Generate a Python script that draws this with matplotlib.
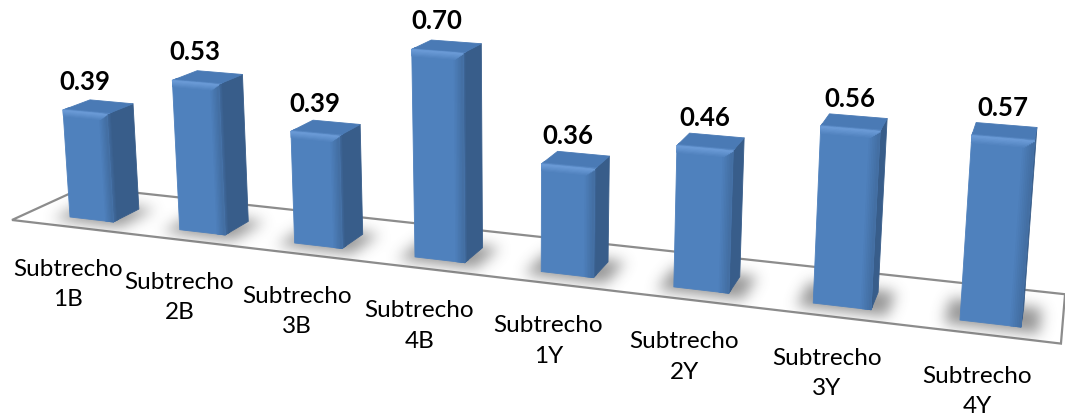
import numpy as np
import matplotlib
matplotlib.use("Agg")
import matplotlib.pyplot as plt
from matplotlib.patches import Polygon
from matplotlib.path import Path
from matplotlib.colors import to_rgb

# ---- data -------------------------------------------------------------
categories = ["Subtrecho\n1B", "Subtrecho\n2B", "Subtrecho\n3B", "Subtrecho\n4B",
              "Subtrecho\n1Y", "Subtrecho\n2Y", "Subtrecho\n3Y", "Subtrecho\n4Y"]
values = [0.39, 0.53, 0.39, 0.70, 0.36, 0.46, 0.56, 0.57]

# ---- perspective camera -------------------------------------------------
# world coords: X along the category axis, D into the depth, Z = value
CAMERA = np.array([
    [105.75, 72.35, -20.40, 70.0],
    [7.59, -18.46, -278.70, 217.0],
    [-0.02228, 0.065, -0.03903, 1.0],
])

BAR_W = 0.40          # bar width along the category axis
BAR_D = 0.40          # bar depth
FLOOR_X = (-0.386, 7.665)
FLOOR_D = (-0.2385, 0.830)

FRONT = np.array(to_rgb("#4F81BD"))
SIDE = np.array(to_rgb("#385D8A"))
TOP = np.array(to_rgb("#4A7AB5"))
HILITE = np.array(to_rgb("#6A9AD6"))
FONT = ["Lato", "DejaVu Sans"]


def project(X, D, Z):
    p = CAMERA @ np.array([X, D, Z, 1.0])
    return p[0] / p[2], p[1] / p[2]


def quad(points):
    return np.array([project(*p) for p in points])


def mix(c1, c2, t):
    return np.asarray(c1) * (1 - t) + np.asarray(c2) * t


W, H = 1065, 416
fig = plt.figure(figsize=(W / 100, H / 100), dpi=100)
ax = fig.add_axes([0, 0, 1, 1])
ax.set_xlim(0, W)
ax.set_ylim(H, 0)
ax.axis("off")

# ---- floor ---------------------------------------------------------------
x0, x1 = FLOOR_X
d0, d1 = FLOOR_D
floor_pts = quad([(x0, d0, 0), (x1, d0, 0), (x1, d1, 0), (x0, d1, 0)])
floor = Polygon(floor_pts, closed=True, facecolor="white", edgecolor="#8C8C8C",
                linewidth=1.6, joinstyle="miter", zorder=1)
ax.add_patch(floor)

# ---- soft shadows on the floor ------------------------------------------
yy, xx = np.mgrid[0:H, 0:W]
grid = np.column_stack([xx.ravel() + 0.5, yy.ravel() + 0.5])
mask = np.zeros(H * W)
for i in range(len(values)):
    foot = quad([(i - 0.10, -0.10, 0), (i + BAR_W + 0.12, -0.10, 0),
                 (i + BAR_W + 0.12, BAR_D + 0.05, 0), (i - 0.10, BAR_D + 0.05, 0)])
    mask += Path(foot).contains_points(grid)
mask = mask.reshape(H, W)


def blur(img, sigma):
    r = int(3 * sigma)
    k = np.exp(-0.5 * (np.arange(-r, r + 1) / sigma) ** 2)
    k /= k.sum()
    img = np.apply_along_axis(lambda m: np.convolve(m, k, mode="same"), 1, img)
    img = np.apply_along_axis(lambda m: np.convolve(m, k, mode="same"), 0, img)
    return img


shadow = blur(mask, 7.0)
rgba = np.zeros((H, W, 4))
rgba[..., :3] = 0.30
rgba[..., 3] = np.clip(shadow, 0, 1) * 0.6
im = ax.imshow(rgba, extent=[0, W, H, 0], zorder=2, interpolation="bilinear")
im.set_clip_path(floor)


def face(pts, col, z):
    col = tuple(np.clip(col, 0, 1))
    ax.add_patch(Polygon(pts, closed=True, facecolor=col, edgecolor=col,
                         linewidth=0.6, joinstyle="round", zorder=z))


# ---- bars ----------------------------------------------------------------
N = 6          # strips used for the rounded edges
RX = 0.07      # rounding width along X
RD = 0.08      # rounding width along D
RZ = 0.022     # rounding height on the top edge
EDGE = mix(FRONT, SIDE, 0.5)
LINE_GAP = 30.5  # pixels between the two lines of a category label
for i, v in enumerate(values):
    a, b = i, i + BAR_W
    z = 3 + i * 0.01
    # right side face, rounded towards the front edge
    face(quad([(b, 0, 0), (b, BAR_D, 0), (b, BAR_D, v), (b, 0, v)]), SIDE, z)
    for k in range(N):
        t0, t1 = k / N, (k + 1) / N
        face(quad([(b, RD * t0, 0), (b, RD * t1, 0), (b, RD * t1, v), (b, RD * t0, v)]),
             mix(EDGE, SIDE, t1), z)
    # top face, lit towards the front edge
    face(quad([(a, 0, v), (b, 0, v), (b, BAR_D, v), (a, BAR_D, v)]), TOP, z)
    for k in range(N):
        t0, t1 = k / N, (k + 1) / N
        face(quad([(a, RD * t0, v), (b, RD * t0, v), (b, RD * t1, v), (a, RD * t1, v)]),
             mix(HILITE, TOP, t1), z)
    # front face with rounded right edge and top bevel
    face(quad([(a, 0, 0), (b, 0, 0), (b, 0, v), (a, 0, v)]), FRONT, z)
    for k in range(N):
        t0, t1 = k / N, (k + 1) / N
        xa, xb = b - RX + RX * t0, b - RX + RX * t1
        face(quad([(xa, 0, 0), (xb, 0, 0), (xb, 0, v), (xa, 0, v)]), mix(FRONT, EDGE, t1), z)
    for k in range(N):
        t0, t1 = k / N, (k + 1) / N
        za, zb = v - RZ + RZ * t0, v - RZ + RZ * t1
        face(quad([(a, 0, za), (b - RX * (1 - t1), 0, za),
                   (b - RX * (1 - t1), 0, zb), (a, 0, zb)]), mix(FRONT, HILITE, t1), z)

    # value label above the bar
    ax.annotate(f"{v:.2f}", xy=project(i + BAR_W / 2, 0, v), xytext=(0, 30),
                textcoords="offset pixels", ha="center", va="center",
                fontsize=18.5, fontweight="bold", family=FONT,
                color="black", zorder=5)

    # category label below the floor, one line at a time
    anchor = project(i + 0.13, d0, 0)
    for j, line in enumerate(categories[i].split("\n")):
        ax.annotate(line, xy=anchor, xytext=(0, -42.5 - j * LINE_GAP),
                    textcoords="offset pixels", ha="center", va="center",
                    fontsize=17.5, family=FONT, color="black", zorder=5)

fig.savefig("out.png", dpi=100)
